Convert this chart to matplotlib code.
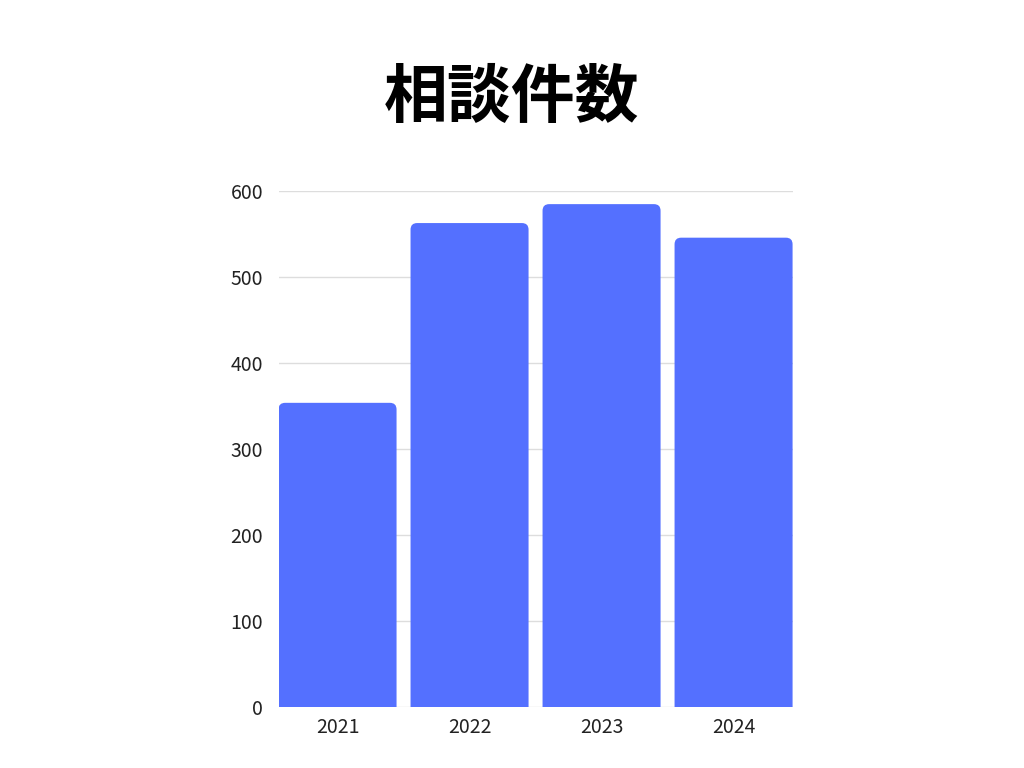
import matplotlib
matplotlib.use("Agg")
import matplotlib.pyplot as plt
from matplotlib.patches import FancyBboxPatch

plt.rcParams["font.family"] = ["Noto Sans CJK JP", "DejaVu Sans"]

# datos
anios = ["2021", "2022", "2023", "2024"]
consultas = [354, 563, 585, 546]
titulo = "相談件数"

COLOR = "#5470FF"
ANCHO = 0.894

fig = plt.figure(figsize=(10.24, 7.68), dpi=100)
ax = fig.add_axes([0.272, 0.079, 0.502, 0.672])

x = range(len(anios))
barras = ax.bar(x, consultas, width=ANCHO, color=COLOR, alpha=0)

# esquinas redondeadas: escala x (132 px/unidad) vs y (0.86 px/unidad)
aspecto = 132 / 0.86
for b in barras:
    p = FancyBboxPatch((b.get_x(), -30), b.get_width(), b.get_height() + 30,
                       boxstyle="round,pad=0,rounding_size=0.05",
                       mutation_aspect=aspecto, facecolor=COLOR,
                       edgecolor="none", zorder=3, clip_on=True)
    ax.add_patch(p)

ax.set_xlim(-ANCHO / 2, len(anios) - 1 + ANCHO / 2)
ax.set_ylim(0, 600)
ax.set_yticks(range(0, 601, 100))
ax.set_xticks(list(x))
ax.set_xticklabels(anios)
ax.grid(axis="y", color="#dddddd", linewidth=1)
ax.set_axisbelow(True)
for s in ax.spines.values():
    s.set_visible(False)
ax.tick_params(length=0, labelsize=14, colors="#222222", pad=7)
ax.tick_params(axis="y", pad=11)

fig.text(0.5, 0.872, titulo, ha="center", va="center", fontsize=46,
         fontweight="bold", color="#000000")

fig.savefig("out.png", dpi=100)
